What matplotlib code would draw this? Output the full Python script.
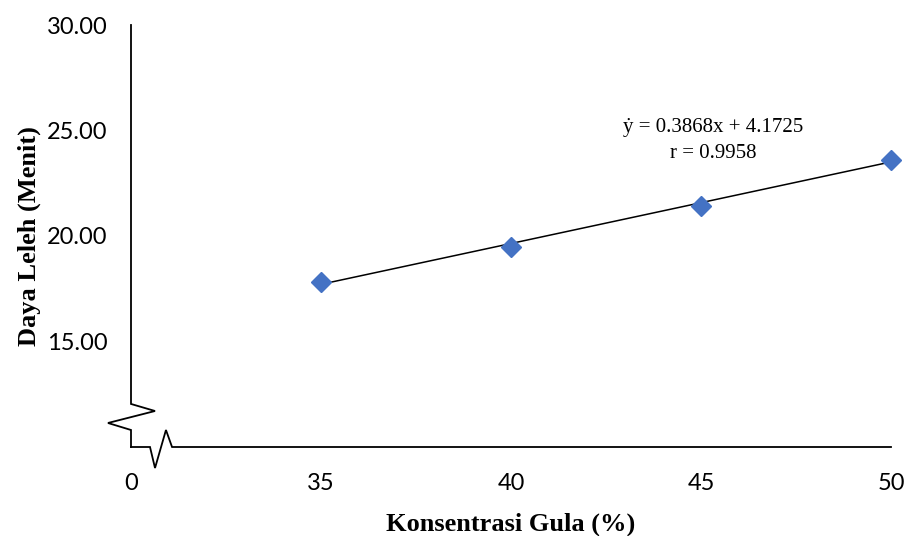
import matplotlib
matplotlib.use('Agg')
import matplotlib.pyplot as plt
from matplotlib.lines import Line2D

# data
konsentrasi = [35, 40, 45, 50]
daya_leleh = [17.81, 19.50, 21.43, 23.60]
slope = 0.3868
intercept = 4.1725
r_value = 0.9958

x_ticks = [30, 35, 40, 45, 50]
x_labels = ["0", "35", "40", "45", "50"]
y_ticks = [15, 20, 25, 30]

BLUE = "#4472C4"
TICK_FONT = "Lato"
SERIF = ["Liberation Serif", "DejaVu Serif"]

fig = plt.figure(figsize=(9.08, 5.36), dpi=100)
ax = fig.add_axes([131 / 908, 1 - 447 / 536, 760 / 908, 422 / 536])

# regression line over the data range
x_fit = [min(konsentrasi), max(konsentrasi)]
y_fit = [slope * x + intercept for x in x_fit]
ax.plot(x_fit, y_fit, color="black", lw=1.1, zorder=2)
ax.plot(konsentrasi, daya_leleh, linestyle="none", marker="D", ms=9.8,
        color=BLUE, zorder=3, clip_on=False)

ax.set_xlim(30, 50)
ax.set_ylim(10, 30)
ax.set_xticks(x_ticks)
ax.set_xticklabels(x_labels)
ax.set_yticks(y_ticks)
ax.set_yticklabels([f"{v:.2f}" for v in y_ticks])
ax.tick_params(axis="both", length=0, labelsize=17)
ax.tick_params(axis="x", pad=19)
ax.tick_params(axis="y", pad=17)
for lab in ax.get_xticklabels() + ax.get_yticklabels():
    lab.set_fontfamily(TICK_FONT)

for s in ax.spines.values():
    s.set_visible(False)

# axis lines with break marks (axes fraction)
y_axis_path = [(0, 1), (0, 0.102), (0.0316, 0.0853), (-0.0303, 0.0569),
               (0, 0.0403), (0, 0)]
x_axis_path = [(0, 0), (0.025, 0), (0.0316, -0.0498), (0.046, 0.0403),
               (0.054, 0), (1, 0)]
for path in (y_axis_path, x_axis_path):
    xs, ys = zip(*path)
    ax.add_line(Line2D(xs, ys, transform=ax.transAxes, color="black",
                       lw=1.3, clip_on=False, solid_joinstyle="miter"))

ax.set_xlabel("Konsentrasi Gula (%)", fontfamily=SERIF, fontweight="bold",
              fontsize=19, labelpad=13)
ax.set_ylabel("Daya Leleh (Menit)", fontfamily=SERIF, fontweight="bold",
              fontsize=19, labelpad=4)

ax.text(0.766, 0.726, f"\u1e8f = {slope}x + {intercept}\nr = {r_value}",
        transform=ax.transAxes, ha="center", va="center",
        fontfamily=SERIF, fontsize=15, linespacing=1.45)

fig.savefig("out.png", dpi=100)
